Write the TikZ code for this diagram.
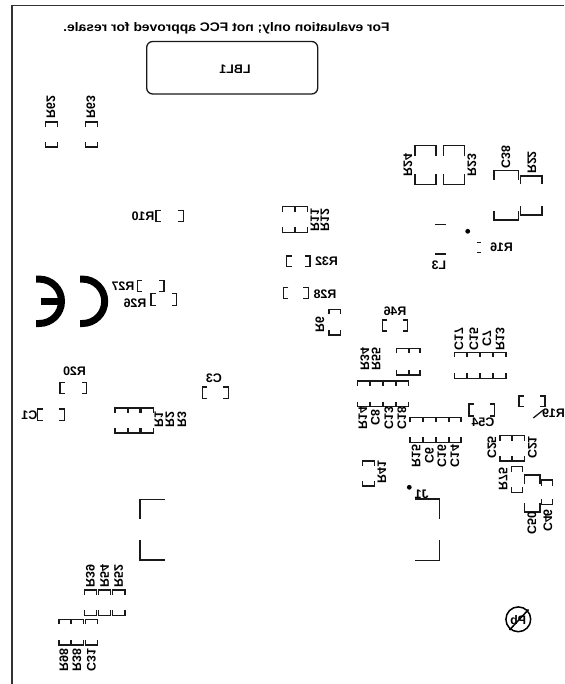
\documentclass[tikz,border=0pt]{standalone}
\usepackage{fontspec}
\setmainfont{Liberation Sans}
\usetikzlibrary{calc}

\tikzset{
  silk/.style={line width=1.3pt,black!90},
  mirror/.style={font=\fontsize{12.4}{12.4}\bfseries,inner sep=0pt,xscale=-1,transform shape},
  mirrorv/.style={font=\fontsize{12.4}{12.4}\bfseries,inner sep=0pt,rotate=90,yscale=-1,transform shape}
}

\begin{document}
\begin{tikzpicture}[x=1pt,y=-1pt]
  \useasboundingbox (0,0) rectangle (564,684);

  % board outline
  \draw[line width=1.2pt,black!80] (12,684) -- (12,5.5) -- (564,5.5);

  % notice and label area
  \node[font=\fontsize{12.4}{12.4}\bfseries,inner sep=0pt,xscale=-1.12,transform shape] (notice) at (226.5,28) {For evaluation only; not FCC approved for resale.};
  \draw[silk,rounded corners=6pt] (146.7,41.5) rectangle (317.7,94);
  \node[mirror] (LBL1) at (235,69) {LBL1};

  % parts with the gap across: x1/x2/y1/y2/tick
  \foreach \xa/\xb/\ya/\yb/\tk in {
    45.7/57.7/122/147/5, 85.7/97.7/122/147/5,
    282.7/294.3/206.7/232.3/5, 295/307.7/206.7/232.3/5,
    415/436/145.7/184.3/10, 443.3/464.7/145.7/184.3/10,
    494/518.7/170.7/220/9, 520.7/542/176/215/8.5,
    115/127.3/408/433/5, 128.3/140/408/433/5, 141/153.3/408/433/5,
    329/340.7/309.3/335/5,
    396.7/408.3/348.3/375/5, 409.3/420/348.3/375/5,
    357.3/369.3/381/406.7/5, 370/382.7/381/406.7/5, 383.3/395.3/381/406.7/5, 396/408.3/381/406.7/5,
    410/422.3/417.3/442.3/5, 423.3/435.7/417.3/442.3/5, 436.7/448.3/417.3/442.3/5, 449.3/461/417.3/442.3/5,
    454.3/466.7/352.3/378.3/5, 467.7/479.3/352.3/378.3/5, 480.7/492.7/352.3/378.3/5, 493.3/506/352.3/378.3/5,
    362.7/374.3/461/486/5,
    500/511.7/435.7/461/5, 512.7/524.3/435.7/461/5,
    511.7/522.7/466.7/492.3/5, 524.3/540/475/512/9, 541.7/552.3/480/504.3/5.5,
    84.3/96.7/590/615.3/5, 98.3/110.7/590/615.3/5, 112.7/125/590/615.3/5,
    59/71/619.3/645/5, 71.7/83.3/619.3/645/5, 85.7/97.7/619.3/645/5} {
    \draw[silk] (\xa,\ya+\tk) -- (\xa,\ya) -- (\xb,\ya) -- (\xb,\ya+\tk);
    \draw[silk] (\xa,\yb-\tk) -- (\xa,\yb) -- (\xb,\yb) -- (\xb,\yb-\tk);
  }

  % parts with the gap along
  \foreach \xa/\xb/\ya/\yb/\tk in {
    156/183.3/210.7/221.7/5,
    286.7/310/256/266.7/5, 283.3/308.3/287.3/298.3/5,
    137.3/164/280.7/291.3/5, 151/176.7/293.7/305.3/5,
    60/86.7/382.3/393.7/5, 202.3/228.3/387/398.3/5, 37.7/64.3/409/420.3/5,
    382.3/407.7/320/331/5, 469/494.5/404/416/5, 519/545/396/406.7/5} {
    \draw[silk] (\xa+\tk,\ya) -- (\xa,\ya) -- (\xa,\yb) -- (\xa+\tk,\yb);
    \draw[silk] (\xb-\tk,\ya) -- (\xb,\ya) -- (\xb,\yb) -- (\xb-\tk,\yb);
  }

  % upright names
  \foreach \name/\cx/\cy in {
    R10/143/216, R32/326.5/261, R28/325/294, L3/439/265, R16/501.5/247,
    R27/123/286.3, R26/135/303, R20/74.5/371.3, C3/214/378.7, C1/29.5/415,
    R46/395/311.7, C54/483/422.3, R19/553.5/413, J1/421.7/494} {
    \node[mirror] (lbl\name) at (\cx,\cy) {\name};
  }

  % turned names
  \foreach \name/\cx/\cy in {
    R62/51/107, R63/91/107, R11/315/220, R12/325/220,
    R24/408/165, R23/472/165, C38/506/157, R22/532/162.5,
    R1/159/420, R2/170/420, R3/182/420, R6/320/325,
    R34/365/359, R55/376/359,
    R14/363/418, C8/375.5/418, C13/389/418, C18/402/418,
    R15/416/456, C6/429.5/456, C16/442/456, C14/455/456,
    C17/459/339, C15/474/339, C7/487/339, R13/500/339,
    R41/382/472, C25/492/447.5, C21/532.5/447.5, R75/503/479,
    C50/532/523, C46/548/520.5,
    R39/90.5/576, R54/104.5/576, R52/118.7/576,
    R98/64/660, R38/77/660, C31/91.5/660} {
    \node[mirrorv] (lbl\name) at (\cx,\cy) {\name};
  }

  % L3, R16 and the R19 stroke
  \draw[silk] (435,224.3) -- (446,224.3);
  \draw[silk] (435,254) -- (446,254);
  \draw[silk] (477.3,242.7) -- (480.7,242.7);
  \draw[silk] (477.3,252.7) -- (480.7,252.7);
  \draw[silk] (533.3,418) -- (543.3,410);

  % pin 1 dots
  \fill[black] (467.7,231.3) circle[radius=2.4pt];
  \fill[black] (409.3,487.3) circle[radius=2.4pt];

  % J1 corners
  \draw[silk] (415,499) -- (439.3,499) -- (439.3,519.3);
  \draw[silk] (439.3,540) -- (439.3,560.3) -- (415,560.3);
  \draw[silk] (165,499.3) -- (140,499.3) -- (140,518.7);
  \draw[silk] (140,540) -- (140,560) -- (165,560);

  % CE mark
  \def\CEr{22.2pt}
  \draw[line width=7pt,black] (80,323.5) -- (82.5,323.5) arc[start angle=-90,end angle=90,radius=\CEr] -- (80,279.1);
  \draw[line width=7pt,black] (36,323.5) -- (39.3,323.5) arc[start angle=-90,end angle=90,radius=\CEr] -- (36,279.1);
  \draw[line width=6.5pt,black] (40.7,301.3) -- (60,301.3);

  % lead free mark
  \draw[line width=1.5pt,black] (518.3,619.3) circle[radius=12.4pt];
  \draw[line width=1.5pt,black] (509.5,630) -- (528.5,609.5);
  \node[mirror] (Pb) at (518.3,620.5) {Pb};
\end{tikzpicture}
\end{document}
